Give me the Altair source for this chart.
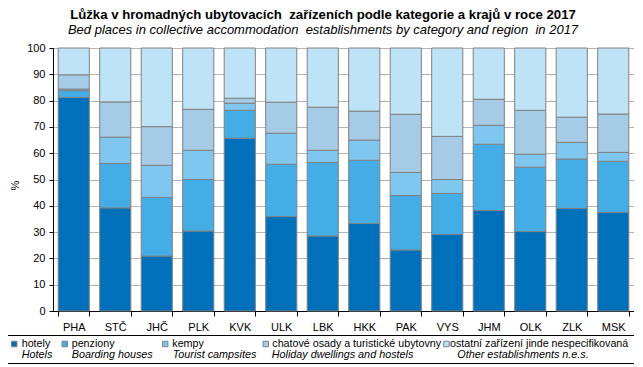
import altair as alt
import pandas as pd

regions = ["PHA", "STČ", "JHČ", "PLK", "KVK", "ULK", "LBK", "HKK", "PAK", "VYS", "JHM", "OLK", "ZLK", "MSK"]
hotely = [81.2, 39.2, 20.9, 30.4, 65.7, 35.9, 28.5, 33.3, 23.2, 29.1, 38.2, 30.2, 39.0, 37.5]
penziony = [2.6, 16.9, 22.3, 19.6, 10.6, 19.9, 28.0, 24.0, 20.7, 15.6, 25.2, 24.5, 18.8, 19.4]
kempy = [0.6, 10.0, 12.2, 11.1, 2.7, 11.8, 4.6, 7.7, 8.8, 5.3, 7.2, 4.9, 6.3, 3.4]
chatove = [5.4, 13.4, 14.7, 15.6, 1.9, 11.8, 16.4, 11.0, 22.1, 16.4, 9.9, 16.7, 9.6, 14.6]
ostatni = [10.2, 20.5, 29.9, 23.3, 19.1, 20.6, 22.5, 24.0, 25.2, 33.6, 19.5, 23.7, 26.3, 25.1]

cat_cz = ["hotely", "penziony", "kempy", "chatové osady a turistické ubytovny",
          "ostatní zařízení jinde nespecifikovaná"]
cat_en = ["Hotels", "Boarding houses", "Tourist campsites", "Holiday dwellings and hostels",
          "Other establishments n.e.s."]
colors = ["#0070BB", "#45ADE6", "#80C7F0", "#A5CBE6", "#BFE3F6"]

title_cz = "Lůžka v hromadných ubytovacích\u00a0 zařízeních podle kategorie a krajů v roce 2017"
title_en = "Bed places in collective accommodation\u00a0 establishments by category and region\u00a0 in 2017"

FONT = "Liberation Sans"
W, H = 581, 263

series = [hotely, penziony, kempy, chatove, ostatni]
rows = []
for ci, (name, vals) in enumerate(zip(cat_cz, series)):
    for r, v in zip(regions, vals):
        rows.append({"region": r, "cat": name, "value": v, "ord": ci})
df = pd.DataFrame(rows)

bars = alt.Chart(df).mark_bar(stroke="#808080", strokeWidth=1).encode(
    x=alt.X("region:N", sort=regions,
            scale=alt.Scale(paddingInner=0.25, paddingOuter=0.125),
            axis=alt.Axis(title=None, labelAngle=0, labelFont=FONT, labelFontSize=11,
                          labelColor="black", domainColor="black", tickColor="black",
                          tickSize=5, tickBand="extent", labelPadding=5)),
    y=alt.Y("value:Q", stack="zero",
            scale=alt.Scale(domain=[0, 100], nice=False),
            axis=alt.Axis(values=list(range(0, 101, 10)), title="%",
                          titleFont=FONT, titleFontSize=11, titleFontWeight="normal",
                          titleX=-33, titleY=137, titleColor="black",
                          labelFont=FONT, labelFontSize=11, labelColor="black",
                          domainColor="black", tickColor="black", tickSize=4,
                          gridColor="#B4B4B4", labelPadding=4)),
    color=alt.Color("cat:N", scale=alt.Scale(domain=cat_cz, range=colors), legend=None),
    order=alt.Order("ord:Q", sort="ascending"),
)

one = pd.DataFrame({"a": [0]})
layers = [bars]

# titles
layers.append(alt.Chart(one).mark_text(text=title_cz, font=FONT, fontSize=13.2, fontWeight="bold",
                                       align="center", baseline="middle", color="black")
              .encode(x=alt.value(270), y=alt.value(-33.5)))
layers.append(alt.Chart(one).mark_text(text=title_en, font=FONT, fontSize=13, fontStyle="italic",
                                       align="center", baseline="middle", color="black")
              .encode(x=alt.value(270), y=alt.value(-18.5)))

# legend box
layers.append(alt.Chart(one).mark_rect(fill="white", fillOpacity=0, stroke="black", strokeWidth=1)
              .encode(x=alt.value(-49.5), x2=alt.value(585.5), y=alt.value(287.5), y2=alt.value(315.5)))

sq_x = [-41.3, 9.3, 109.7, 210.3, 391]
t1_x = [-31.3, 18.7, 119.3, 219.3, 397]
t2_x = [-31.3, 18.7, 119.7, 218.7, 404.3]
for i in range(5):
    layers.append(alt.Chart(one).mark_square(size=30, filled=True, fill=colors[i], stroke="#808080",
                                             strokeWidth=1, opacity=1)
                  .encode(x=alt.value(sq_x[i] + 2.5), y=alt.value(296)))
    layers.append(alt.Chart(one).mark_text(text=cat_cz[i], font=FONT, fontSize=10.7, align="left",
                                           baseline="middle", color="black")
                  .encode(x=alt.value(t1_x[i]), y=alt.value(295.5)))
    layers.append(alt.Chart(one).mark_text(text=cat_en[i], font=FONT, fontSize=10.8, fontStyle="italic",
                                           align="left", baseline="middle", color="black")
                  .encode(x=alt.value(t2_x[i]), y=alt.value(306.5)))

chart = alt.layer(*layers).properties(
    width=W, height=H,
    autosize=alt.AutoSizeParams(type="none"),
    padding={"left": 45, "top": 40, "right": 0, "bottom": 54},
    background="white",
).configure_view(stroke="black", strokeWidth=1)

chart.save("out.html", embed_options={"renderer": "svg", "actions": False})
